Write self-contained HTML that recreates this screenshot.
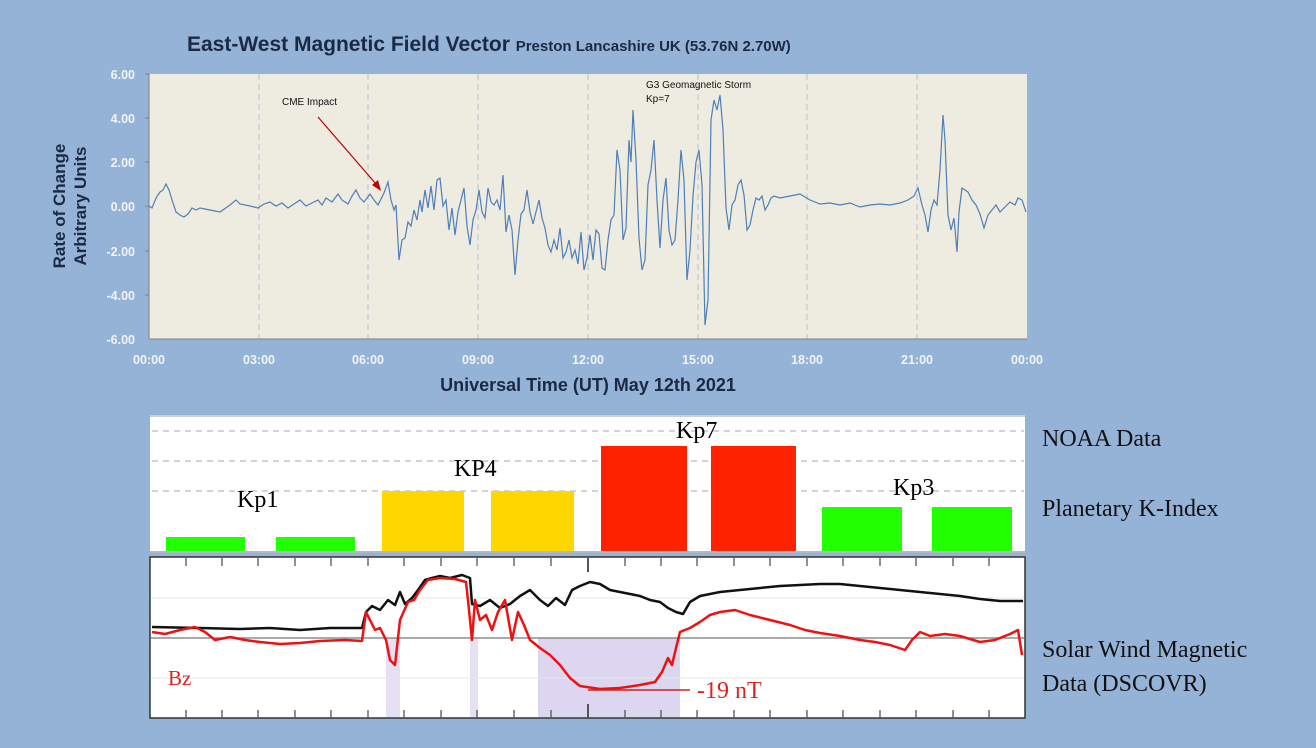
<!DOCTYPE html>
<html><head><meta charset="utf-8"><style>
html,body{margin:0;padding:0;background:#95b3d7;}
svg{display:block}
.t{font-family:"Liberation Sans",sans-serif;}
.s{font-family:"Liberation Serif",serif;}
</style></head><body>
<svg width="1316" height="748" viewBox="0 0 1316 748" xmlns="http://www.w3.org/2000/svg">
<rect width="1316" height="748" fill="#95b3d7"/>
<text class="t" x="187" y="51" font-size="21" font-weight="bold" fill="#1a2a44">East-West Magnetic Field Vector <tspan font-size="15">Preston Lancashire UK (53.76N 2.70W)</tspan></text>
<rect x="149" y="74" width="878" height="265" fill="#eeebe1"/>
<g stroke="#a9b8cc" stroke-width="0.8" stroke-dasharray="6,4">
<line x1="259" y1="74" x2="259" y2="339"/><line x1="368" y1="74" x2="368" y2="339"/><line x1="478" y1="74" x2="478" y2="339"/><line x1="588" y1="74" x2="588" y2="339"/><line x1="698" y1="74" x2="698" y2="339"/><line x1="807" y1="74" x2="807" y2="339"/><line x1="917" y1="74" x2="917" y2="339"/>
</g>
<line x1="149" y1="74" x2="149" y2="339" stroke="#7f7f7f"/>
<line x1="149" y1="339" x2="1027" y2="339" stroke="#7f7f7f"/>
<g stroke="#7f7f7f"><line x1="145" y1="74" x2="149" y2="74"/><line x1="145" y1="118" x2="149" y2="118"/><line x1="145" y1="162" x2="149" y2="162"/><line x1="145" y1="206" x2="149" y2="206"/><line x1="145" y1="251" x2="149" y2="251"/><line x1="145" y1="295" x2="149" y2="295"/></g>
<g class="t" font-size="12.5" font-weight="bold" fill="#f2f4f8" text-anchor="end">
<text x="135" y="79">6.00</text><text x="135" y="123">4.00</text><text x="135" y="167">2.00</text><text x="135" y="211">0.00</text><text x="135" y="256">-2.00</text><text x="135" y="300">-4.00</text><text x="135" y="344">-6.00</text>
</g>
<g class="t" font-size="12.5" font-weight="bold" fill="#f2f4f8" text-anchor="middle">
<text x="149" y="364">00:00</text><text x="259" y="364">03:00</text><text x="368" y="364">06:00</text><text x="478" y="364">09:00</text><text x="588" y="364">12:00</text><text x="698" y="364">15:00</text><text x="807" y="364">18:00</text><text x="917" y="364">21:00</text><text x="1027" y="364">00:00</text>
</g>
<text class="t" x="588" y="391" font-size="18" font-weight="bold" fill="#1a2a44" text-anchor="middle">Universal Time (UT) May 12th 2021</text>
<text class="t" transform="translate(65,206) rotate(-90)" font-size="17" font-weight="bold" fill="#1a2a44" text-anchor="middle">Rate of Change</text>
<text class="t" transform="translate(86,206) rotate(-90)" font-size="17" font-weight="bold" fill="#1a2a44" text-anchor="middle">Arbitrary Units</text>
<text class="t" x="282" y="105" font-size="10" fill="#111">CME Impact</text>
<text class="t" x="646" y="88" font-size="10" fill="#111">G3 Geomagnetic Storm</text>
<text class="t" x="646" y="102" font-size="10" fill="#111">Kp=7</text>
<line x1="318" y1="117" x2="376" y2="184" stroke="#c00000" stroke-width="1.2"/>
<polygon points="381,191 372,185 378,180" fill="#c00000"/>
<polyline fill="none" stroke="#4f7fb8" stroke-width="1.2" points="149,206 152,208 156,198 160,192 163,190 166,184 169,190 172,200 176,212 180,215 184,217 188,214 192,208 196,210 200,208 210,210 220,212 230,205 236,200 240,204 250,206 258,208 264,204 270,202 276,206 282,203 288,208 294,204 300,200 306,206 312,203 318,200 322,205 326,198 332,202 338,194 342,200 348,204 352,196 356,190 360,198 364,202 370,194 374,200 378,205 384,193 388,182 391,200 394,210 396,205 399,260 402,240 405,238 408,222 411,226 414,210 417,220 420,200 422,212 425,190 428,208 431,186 434,210 437,180 440,178 443,206 446,200 449,230 452,208 455,235 458,212 461,200 464,188 467,226 470,245 473,220 476,210 479,190 482,212 485,218 488,188 491,202 494,205 497,200 500,210 503,175 506,232 509,215 512,230 515,275 518,240 521,214 524,210 527,190 530,212 533,224 536,212 539,200 542,218 545,228 548,245 551,252 554,240 557,250 560,228 563,258 566,252 569,240 572,258 575,250 578,264 581,232 584,270 587,258 590,235 593,260 596,230 599,234 602,268 605,270 608,240 611,220 614,215 617,150 620,170 623,240 626,228 629,140 631,162 633,110 636,160 639,238 642,270 645,260 648,185 651,170 654,140 657,200 660,248 663,200 666,178 669,230 672,245 675,240 678,200 681,150 684,180 687,280 690,250 693,196 696,162 699,150 702,185 705,325 708,300 711,120 714,100 717,110 720,95 723,130 726,208 729,230 732,205 735,200 738,185 741,180 744,195 747,230 750,225 753,210 756,198 759,200 762,196 765,210 768,205 771,198 774,196 780,198 790,196 800,194 810,200 820,204 830,203 840,205 850,203 860,207 870,205 880,204 890,205 900,203 908,200 914,196 918,188 922,205 925,215 928,232 931,210 934,200 937,205 940,170 943,115 945,140 948,215 951,230 954,218 957,252 959,212 962,188 965,190 968,192 972,200 976,205 980,214 984,228 988,215 992,210 996,205 1000,212 1005,207 1010,202 1015,205 1018,198 1022,200 1026,212"/>

<rect x="150" y="415" width="875" height="137" fill="#ffffff"/>
<line x1="150" y1="416" x2="1025" y2="416" stroke="#c8d0dc" stroke-width="2"/>
<g stroke="#aaaaaa" stroke-dasharray="6,5"><line x1="152" y1="431" x2="1024" y2="431"/><line x1="152" y1="461" x2="1024" y2="461"/><line x1="152" y1="491" x2="1024" y2="491"/></g>
<rect x="166" y="537" width="79" height="15" fill="#22ff00"/>
<rect x="276" y="537" width="79" height="15" fill="#22ff00"/>
<rect x="382" y="491" width="82" height="61" fill="#ffd700"/>
<rect x="491" y="491" width="83" height="61" fill="#ffd700"/>
<rect x="601" y="446" width="86" height="106" fill="#ff2200"/>
<rect x="711" y="446" width="85" height="106" fill="#ff2200"/>
<rect x="822" y="507" width="80" height="45" fill="#22ff00"/>
<rect x="932" y="507" width="80" height="45" fill="#22ff00"/>
<line x1="150" y1="552" x2="1025" y2="552" stroke="#b0b8c4" stroke-width="2"/>
<g class="s" font-size="24" fill="#000"><text x="237" y="507">Kp1</text><text x="454" y="476">KP4</text><text x="676" y="438">Kp7</text><text x="893" y="495">Kp3</text></g>

<rect x="150" y="557" width="875" height="161" fill="#ffffff" stroke="#333" stroke-width="1.5"/>
<rect x="538" y="638" width="142" height="79" fill="#ddd6f0"/>
<rect x="386" y="638" width="14" height="79" fill="#e6e0f4"/>
<rect x="470" y="638" width="8" height="79" fill="#e6e0f4"/>
<g stroke="#e8e8e8"><line x1="151" y1="598" x2="1024" y2="598"/><line x1="151" y1="678" x2="1024" y2="678"/></g>
<line x1="151" y1="638" x2="1024" y2="638" stroke="#777" stroke-width="1.2"/>
<g stroke="#555" stroke-width="1.3">
<path d="M186,558v8M222,558v8M258,558v8M295,558v8M331,558v8M368,558v8M404,558v8M441,558v8M477,558v8M514,558v8M551,558v8M625,558v8M661,558v8M697,558v8M734,558v8M770,558v8M807,558v8M843,558v8M880,558v8M916,558v8M953,558v8M989,558v8M186,710v8M222,710v8M258,710v8M295,710v8M331,710v8M368,710v8M404,710v8M441,710v8M477,710v8M514,710v8M551,710v8M625,710v8M661,710v8M697,710v8M734,710v8M770,710v8M807,710v8M843,710v8M880,710v8M916,710v8M953,710v8M989,710v8"/>
<path d="M588,558v14M588,704v14" stroke-width="2"/>
</g>
<polyline fill="none" stroke="#111" stroke-width="2.5" stroke-linejoin="round" points="152,627 200,628 240,629 270,628 300,630 330,628 362,628 366,612 372,606 380,610 388,600 395,605 400,592 405,604 412,598 418,590 425,580 432,578 440,576 450,578 462,575 470,578 472,604 480,606 490,600 500,608 510,604 520,596 530,590 540,600 548,606 556,598 565,605 572,590 580,586 590,582 600,584 610,590 620,592 630,594 640,596 650,600 660,602 668,608 676,612 683,614 690,602 700,596 720,592 740,590 760,588 780,586 800,585 820,584 840,584 860,586 880,588 900,590 920,592 940,594 960,596 980,599 1000,601 1023,601"/>
<polyline fill="none" stroke="#ee1111" stroke-width="2.5" stroke-linejoin="round" points="152,632 165,634 180,630 195,627 205,632 215,640 230,637 245,640 260,642 280,644 300,643 320,641 345,640 362,641 366,612 370,620 375,630 380,628 386,640 390,660 395,665 400,620 408,602 414,600 420,590 428,580 440,578 455,579 466,582 469,610 472,640 475,600 480,620 486,615 492,630 498,612 505,600 512,640 518,612 524,625 530,640 540,648 550,655 560,665 570,678 580,686 600,689 620,688 640,685 655,682 662,672 668,658 672,665 676,648 680,632 690,628 700,622 710,615 720,612 735,610 750,615 770,620 790,625 805,630 820,633 840,636 860,640 875,642 890,645 905,650 912,640 920,632 930,636 945,634 960,636 980,642 995,640 1010,634 1018,630 1022,655"/>
<line x1="588" y1="690" x2="690" y2="690" stroke="#cc2222" stroke-width="1.5"/>
<text class="s" x="168" y="685" font-size="21" fill="#dd2222">Bz</text>
<text class="s" x="697" y="698" font-size="24" fill="#dd2222">-19 nT</text>

<g class="s" font-size="24" fill="#111">
<text x="1042" y="446">NOAA Data</text>
<text x="1042" y="516">Planetary K-Index</text>
<text x="1042" y="657">Solar Wind Magnetic</text>
<text x="1042" y="691">Data (DSCOVR)</text>
</g>
</svg>
</body></html>
